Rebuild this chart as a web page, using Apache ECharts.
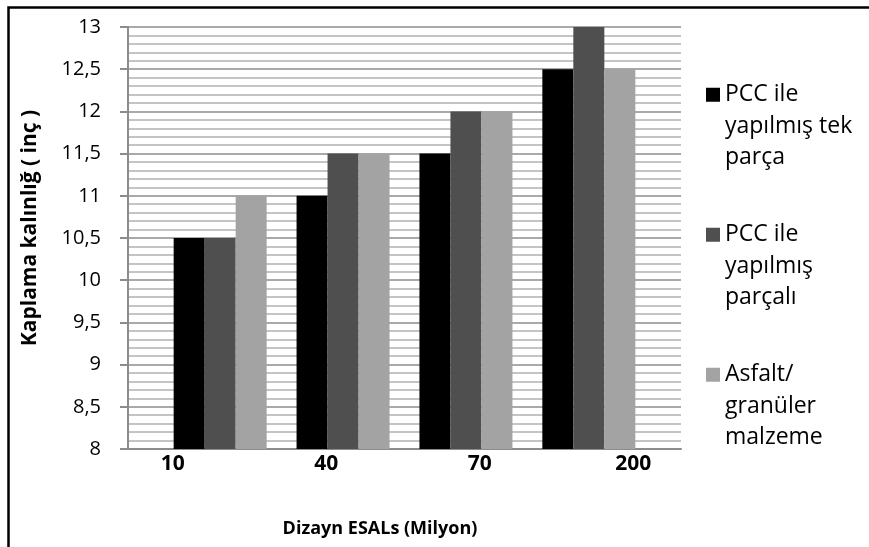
<!DOCTYPE html>
<html>
<head>
<meta charset="utf-8">
<script src="https://cdn.jsdelivr.net/npm/echarts@6/dist/echarts.min.js"></script>
<style>
  html, body { margin: 0; padding: 0; background: #fff; }
  #chart { width: 869px; height: 547px; }
</style>
</head>
<body>
<div id="chart"></div>
<script>
// categories (Dizayn ESALs, milyon)
const categories = ['10', '40', '70', '200']
const seriesNames = [
  'PCC ile\nyapılmış tek\nparça',
  'PCC ile\nyapılmış\nparçalı',
  'Asfalt/\ngranüler\nmalzeme'
]
// kaplama kalınlığı (inç)
const pccTekParca = [10.5, 11, 11.5, 12.5]
const pccParcali = [10.5, 11.5, 12, 13]
const asfaltGranuler = [11, 11.5, 12, 12.5]
const yTicks = [8, 8.5, 9, 9.5, 10, 10.5, 11, 11.5, 12, 12.5, 13]

const colors = ['#000000', '#4f4f4f', '#a3a3a3']
const font = '"Open Sans", "Noto Sans", sans-serif'

const chart = echarts.init(document.getElementById('chart'))

const toPairs = (arr) => arr.map((v, i) => [i, v])

const option = {
  animation: false,
  graphic: [
    {
      type: 'rect',
      shape: { x: 8.5, y: 7.5, width: 1000, height: 700 },
      style: { fill: 'none', stroke: '#000', lineWidth: 2.5 },
      silent: true
    }
  ],
  legend: {
    orient: 'vertical',
    left: 701,
    top: 11,
    itemWidth: 14,
    itemHeight: 14,
    itemGap: -17.5,
    icon: 'rect',
    data: seriesNames,
    // two blank lines in front so the icon sits next to the first line
    formatter: (name) => '\n\n' + name,
    textStyle: {
      fontFamily: font,
      fontSize: 23,
      color: '#000',
      lineHeight: 31.5
    }
  },
  grid: [
    { left: 128, top: 27, width: 553, height: 422 },
    { left: 96, top: 27, width: 614, height: 422 }
  ],
  xAxis: [
    {
      type: 'value',
      gridIndex: 0,
      min: -0.75,
      max: 3.75,
      axisLabel: { show: false },
      axisTick: { show: false },
      splitLine: { show: false },
      axisLine: { show: true, onZero: false, lineStyle: { color: '#8c8c8c', width: 2 } },
      name: 'Dizayn ESALs (Milyon)',
      nameLocation: 'middle',
      nameGap: 71,
      nameTextStyle: {
        fontFamily: font,
        fontSize: 18,
        fontWeight: 'bold',
        color: '#000',
        padding: [0, 49, 0, 0]
      }
    },
    {
      type: 'category',
      gridIndex: 1,
      data: categories,
      axisLine: { show: false },
      axisTick: { show: false },
      axisLabel: {
        margin: 5,
        fontFamily: font,
        fontSize: 21,
        fontWeight: 'bold',
        color: '#000'
      }
    }
  ],
  yAxis: [
    {
      type: 'value',
      gridIndex: 0,
      min: yTicks[0],
      max: yTicks[yTicks.length - 1],
      interval: 0.5,
      axisLine: { show: true, onZero: false, lineStyle: { color: '#8c8c8c', width: 2 } },
      axisTick: { show: true, inside: false, length: 8, lineStyle: { color: '#8c8c8c', width: 2 } },
      axisLabel: {
        margin: 27,
        fontFamily: font,
        fontSize: 20,
        color: '#000',
        formatter: (v) => String(v).replace('.', ',')
      },
      splitLine: { show: true, lineStyle: { color: '#8c8c8c', width: 1.5 } },
      minorTick: { show: false, splitNumber: 5 },
      minorSplitLine: { show: true, lineStyle: { color: '#c4c4c4', width: 2 } },
      name: 'Kaplama kalınlığ ( inç )',
      nameLocation: 'middle',
      nameGap: 87,
      nameTextStyle: {
        fontFamily: font,
        fontSize: 21,
        fontWeight: 'bold',
        color: '#000',
        padding: [0, 0, 0, 20]
      }
    },
    { type: 'value', gridIndex: 1, show: false }
  ],
  series: [
    {
      name: seriesNames[0],
      type: 'bar',
      barWidth: 31,
      barGap: '0%',
      itemStyle: { color: colors[0] },
      data: toPairs(pccTekParca)
    },
    {
      name: seriesNames[1],
      type: 'bar',
      barWidth: 31,
      barGap: '0%',
      itemStyle: { color: colors[1] },
      data: toPairs(pccParcali)
    },
    {
      name: seriesNames[2],
      type: 'bar',
      barWidth: 31,
      barGap: '0%',
      itemStyle: { color: colors[2] },
      data: toPairs(asfaltGranuler)
    }
  ]
}

chart.setOption(option)
</script>
</body>
</html>
